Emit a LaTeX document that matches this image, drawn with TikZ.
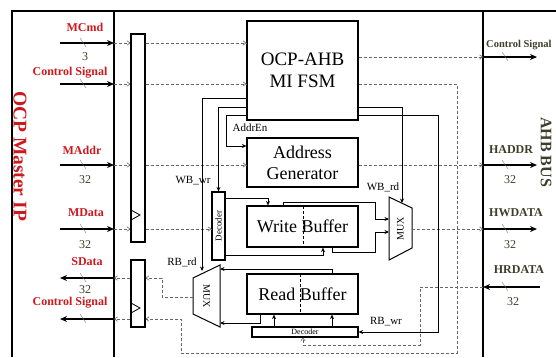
\documentclass[tikz,border=0pt]{standalone}
\usepackage{fontspec}
\setmainfont{Liberation Serif}
\usetikzlibrary{arrows.meta,positioning}
\definecolor{ipred}{RGB}{205,25,30}
\definecolor{busol}{RGB}{62,62,42}
\tikzset{
  frameline/.style={line width=1.6pt},
  blk/.style={draw, line width=1.2pt, fill=white, inner sep=0pt},
  regbar/.style={draw, line width=1.1pt, fill=white, inner sep=0pt, minimum width=14pt},
  wire/.style={line width=0.9pt},
  warr/.style={wire, -{Stealth[length=4.5pt,width=4pt]}},
  sig/.style={densely dashed, line width=0.6pt, black!60},
  sarr/.style={sig, -{Straight Barb[length=3pt,width=4.5pt]}},
  bus/.style={line width=1.3pt, -{Stealth[length=7pt,width=6pt]}},
  buswd/.style={line width=0.4pt, black!55},
  inlbl/.style={font=\fontsize{12}{13}\selectfont\bfseries, text=ipred, inner sep=0pt},
  outlbl/.style={font=\fontsize{12}{13}\selectfont\bfseries, text=busol, inner sep=0pt},
  wdth/.style={font=\fontsize{12}{13}\selectfont, text=busol, inner sep=0pt},
  wlbl/.style={font=\fontsize{11}{12}\selectfont, inner sep=0pt},
}

\begin{document}
\begin{tikzpicture}[x=1pt,y=-1pt]
  \useasboundingbox (0,0) rectangle (556,357);
  % outer frames
  \draw[frameline] (12,357) -- (12,11) -- (556,11);
  \draw[line width=1.3pt] (114,11) -- (114,357);
  \draw[line width=1.3pt] (483,11) -- (483,357);
  \node[rotate=-90, font=\fontsize{19.5}{20}\selectfont\bfseries, text=ipred] (ocp) at (20,156) {OCP Master IP};
  \node[rotate=-90, font=\fontsize{16}{17}\selectfont\bfseries, text=busol, inner sep=1pt] (ahb) at (546,152) {AHB BUS};

  % blocks
  \node[blk, minimum width=111pt, minimum height=99pt, align=center,
        font=\fontsize{19}{22}\selectfont] (fsm) at (302.5,70.5) {OCP-AHB\\MI FSM};
  \node[blk, minimum width=111pt, minimum height=49pt, align=center,
        font=\fontsize{18}{21}\selectfont] (agen) at (302.5,162.5) {Address\\Generator};
  \node[blk, minimum width=111pt, minimum height=41pt,
        font=\fontsize{18}{20}\selectfont] (wbuf) at (302.5,226.5) {Write Buffer};
  \node[blk, minimum width=111pt, minimum height=40pt,
        font=\fontsize{18}{20}\selectfont] (rbuf) at (302.5,294) {Read Buffer};
  \draw[densely dashed, line width=0.7pt] (303,206) -- (303,247);
  \draw[densely dashed, line width=0.7pt] (300,274) -- (300,314);
  \node[blk, rotate=90, minimum width=68pt, minimum height=13pt,
        font=\fontsize{9}{10}\selectfont] (wdec) at (218.5,226) {Decoder};
  \node[blk, minimum width=106pt, minimum height=10pt,
        font=\fontsize{8}{8}\selectfont] (rdec) at (305,332) {Decoder};

  % registers
  \node[regbar, minimum height=208pt] (regi) at (138,138) {};
  \node[regbar, minimum height=67pt] (rego) at (138,293.5) {};
  \draw[line width=0.8pt] (131,210) -- (140,215) -- (131,220);
  \draw[line width=0.8pt] (131,303) -- (140,308) -- (131,313);

  % multiplexers
  \draw[line width=1pt] (193,278) coordinate (mlw1) -- (220,265) coordinate (mle1)
     -- (220,327) coordinate (mle2) -- (193,314) coordinate (mlw2) -- cycle;
  \node[rotate=-90, font=\fontsize{10}{10}\selectfont, inner sep=0pt] (muxl) at (206.5,296) {MUX};
  \draw[line width=1pt] (389,197) coordinate (mrw1) -- (412,208) coordinate (mre1)
     -- (412,248) coordinate (mre2) -- (389,260) coordinate (mrw2) -- cycle;
  \node[rotate=90, font=\fontsize{10}{10}\selectfont, inner sep=0pt] (muxr) at (400.5,228.5) {MUX};

  % OCP side pins
  \foreach \y/\n in {43/mcmd,84/ctli,165/maddr,229/mdata}{
    \coordinate (\n-src) at (60,\y);
    \coordinate (\n-pin) at (114,\y);
    \draw[bus] (\n-src) -- (\n-pin);
    \draw[buswd] (80,\y-5) -- (86,\y+4);
    \draw[sarr] (\n-pin) -- (regi.west |- \n-pin);
  }
  \foreach \y/\n in {278/sdata,319/ctlo}{
    \coordinate (\n-dst) at (60,\y);
    \coordinate (\n-pin) at (114,\y);
    \draw[bus] (\n-pin) -- (\n-dst);
    \draw[buswd] (80,\y-5) -- (86,\y+4);
    \draw[sarr] (rego.west |- \n-pin) -- (\n-pin);
  }
  \node[inlbl] (mcmdl) at (85,27) {MCmd};
  \node[wdth] (mcmdw) at (85,57) {3};
  \node[inlbl] (ctlil) at (70,73) {Control Signal};
  \node[inlbl] (maddrl) at (82,150) {MAddr};
  \node[wdth] (maddrw) at (85,180) {32};
  \node[inlbl] (mdatal) at (86,213) {MData};
  \node[wdth] (mdataw) at (85,245) {32};
  \node[inlbl] (sdatal) at (87,262) {SData};
  \node[wdth] (sdataw) at (85,290) {32};
  \node[inlbl] (ctlol) at (70,303) {Control Signal};

  % AHB side pins
  \foreach \y/\n in {57/ctlh,165/haddr,229/hwdata}{
    \coordinate (\n-pin) at (483,\y);
    \coordinate (\n-dst) at (537,\y);
    \draw[bus] (\n-pin) -- (\n-dst);
    \draw[buswd] (502,\y-5) -- (508,\y+4);
  }
  \coordinate (hrdata-pin) at (483,287);
  \coordinate (hrdata-src) at (540,287);
  \draw[bus] (hrdata-src) -- (hrdata-pin);
  \draw[buswd] (502,282) -- (508,291);
  \node[outlbl, anchor=west, font=\fontsize{10.5}{12}\selectfont\bfseries] (ctlhl) at (486,45) {Control Signal};
  \node[outlbl] (haddrl) at (511,150) {HADDR};
  \node[wdth] (haddrw) at (510,180) {32};
  \node[outlbl] (hwdatal) at (516,213) {HWDATA};
  \node[wdth] (hwdataw) at (510,245) {32};
  \node[outlbl] (hrdatal) at (519,270) {HRDATA};
  \node[wdth] (hrdataw) at (513,302) {32};

  % dashed signal paths
  \draw[sarr] (regi.east |- mcmd-pin) -- (fsm.west |- mcmd-pin);
  \draw[sarr] (regi.east |- ctli-pin) -- (fsm.west |- ctli-pin);
  \draw[sarr] (regi.east |- maddr-pin) -- (agen.west |- maddr-pin);
  \draw[sarr] (regi.east |- mdata-pin) -- (wdec.north |- mdata-pin);
  \draw[sarr] (fsm.east |- ctlh-pin) -- (ctlh-pin);
  \draw[sarr] (agen.east |- haddr-pin) -- (haddr-pin);
  \draw[sarr] (412,229) -- (hwdata-pin);
  \draw[sarr] (fsm.east |- ctli-pin) -- (457,84) -- (457,353) -- (181,353)
     -- (181,319) -- (rego.east |- ctlo-pin);
  \draw[sarr] (hrdata-pin) -- (420,287) -- (420,345) -- (303,345) -- (rdec.south -| 303,0);
  \draw[sarr] (193,297) -- (162,297) -- (162,278) -- (rego.east |- sdata-pin);

  % control wires from the FSM
  \draw[warr] (fsm.west |- 0,98) -- (202,98) -- (202,271);
  \draw[warr] (fsm.west |- 0,107) -- (wdec.east |- 0,107) -- (wdec.east);
  \draw[warr] (fsm.west |- 0,115) -- (226,115) -- (226,146) -- (agen.west |- 0,146);
  \draw[warr] (fsm.east |- 0,107) -- (402,107) -- (402,203);
  \draw[warr] (fsm.east |- 0,115) -- (438,115) -- (438,332) -- (rdec.east);
  \node[wlbl] (wbwr) at (193,181) {WB\_wr};
  \node[wlbl] (rbrd) at (182,262) {RB\_rd};
  \node[wlbl] (addren) at (250,128) {AddrEn};
  \node[wlbl] (wbrd) at (383,187) {WB\_rd};
  \node[wlbl] (rbwr) at (386,322) {RB\_wr};

  % write path
  \draw[warr] (wdec.south |- 0,198) -- (268,198) -- (wbuf.north -| 268,0);
  \draw[warr] (wdec.south |- 0,255) -- (323,255) -- (wbuf.south -| 323,0);
  \draw[warr] (wbuf.north -| 283,0) -- (283,202) -- (375,202) -- (375,219) -- (389,219);
  \draw[warr] (wbuf.south -| 332,0) -- (332,252) -- (375,252) -- (375,232) -- (389,232);

  % read path
  \draw[warr] (rbuf.north -| 332,0) -- (332,269) -- (220,269);
  \draw[warr] (rbuf.south -| 260,0) -- (260,323) -- (220,323);
  \draw[warr] (rdec.north -| 274,0) -- (rbuf.south -| 274,0);
  \draw[warr] (rdec.north -| 332,0) -- (rbuf.south -| 332,0);
\end{tikzpicture}
\end{document}
